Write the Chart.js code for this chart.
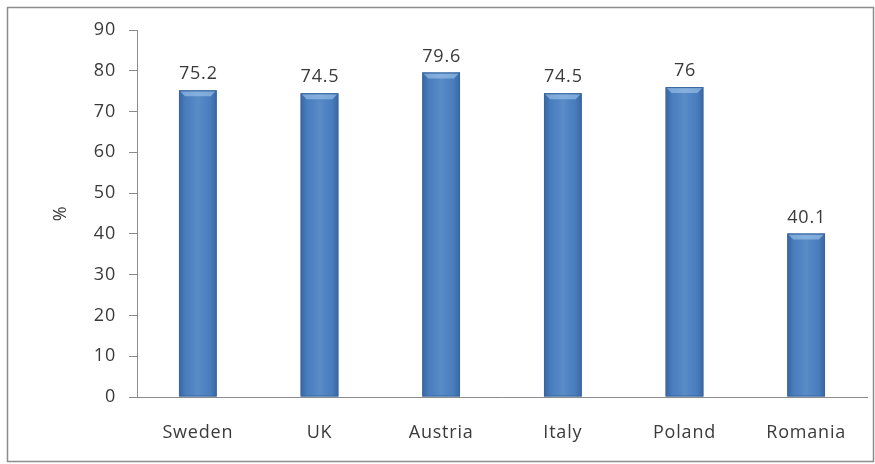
<!DOCTYPE html>
<html><head><meta charset="utf-8">
<script src="https://cdn.jsdelivr.net/npm/chart.js@4/dist/chart.umd.min.js"></script>
<style>html,body{margin:0;padding:0;background:#fff}#wrap{width:875px;height:464px}</style>
</head><body><div id="wrap"><canvas id="c" width="875" height="464"></canvas></div>
<script>
const categories = ["Sweden", "UK", "Austria", "Italy", "Poland", "Romania"];
const values = [75.2, 74.5, 79.6, 74.5, 76, 40.1];
const valueLabels = ["75.2", "74.5", "79.6", "74.5", "76", "40.1"];
const yTicks = [0, 10, 20, 30, 40, 50, 60, 70, 80, 90];
const FONT = "'Open Sans', Lato, sans-serif";
const SPACING = '0.8px';

const framePlugin = {
  id: 'frame',
  beforeDraw(chart) {
    const ctx = chart.ctx;
    ctx.save();
    ctx.fillStyle = '#fff';
    ctx.fillRect(0, 0, chart.width, chart.height);
    ctx.strokeStyle = '#8c8c8c';
    ctx.lineWidth = 1.5;
    ctx.strokeRect(7.5, 7.5, chart.width - 9, chart.height - 10);
    ctx.restore();
    if ('letterSpacing' in ctx) ctx.letterSpacing = SPACING;
  }
};

const barStyle = {
  id: 'barStyle',
  afterDatasetsDraw(chart) {
    const ctx = chart.ctx;
    const meta = chart.getDatasetMeta(0);
    ctx.save();
    meta.data.forEach((bar, i) => {
      const p = bar.getProps(['x', 'y', 'base', 'width'], true);
      const l = p.x - p.width / 2, r = p.x + p.width / 2;
      const g = ctx.createLinearGradient(l, 0, r, 0);
      g.addColorStop(0, 'rgba(20,50,100,0.35)');
      g.addColorStop(0.18, 'rgba(20,50,100,0.05)');
      g.addColorStop(0.5, 'rgba(255,255,255,0.08)');
      g.addColorStop(0.82, 'rgba(20,50,100,0.05)');
      g.addColorStop(1, 'rgba(20,50,100,0.35)');
      ctx.fillStyle = g;
      ctx.fillRect(l, p.y, p.width, p.base - p.y);
      // top bevel
      const b = 6;
      ctx.beginPath();
      ctx.moveTo(l + 1, p.y + 1);
      ctx.lineTo(r - 1, p.y + 1);
      ctx.lineTo(r - b, p.y + b);
      ctx.lineTo(l + b, p.y + b);
      ctx.closePath();
      ctx.fillStyle = 'rgba(170,205,240,0.55)';
      ctx.fill();
      // outline
      ctx.strokeStyle = '#3a679f';
      ctx.lineWidth = 1;
      ctx.strokeRect(l + 0.5, p.y + 0.5, p.width - 1, p.base - p.y - 1);
      // value label
      ctx.fillStyle = '#3a3a3a';
      ctx.font = '18px ' + FONT;
      ctx.textAlign = 'center';
      ctx.textBaseline = 'bottom';
      ctx.fillText(valueLabels[i], p.x + 0.5, p.y - 7);
    });
    ctx.restore();
  }
};

new Chart(document.getElementById('c'), {
  type: 'bar',
  data: {
    labels: categories,
    datasets: [{
      data: values,
      backgroundColor: '#4c82c3',
      borderWidth: 0,
      barPercentage: 0.31,
      categoryPercentage: 1
    }]
  },
  options: {
    responsive: false,
    animation: false,
    events: [],
    layout: { padding: { left: 46, right: 8, top: 30, bottom: 7 } },
    plugins: { legend: { display: false }, tooltip: { enabled: false } },
    scales: {
      x: {
        grid: { display: false },
        border: { display: true, color: '#8c8c8c', width: 1 },
        ticks: { color: '#3a3a3a', font: { family: FONT, size: 18 }, padding: 17, maxRotation: 0 },
        afterFit(s) { s.height = 60; }
      },
      y: {
        min: 0, max: 90,
        afterBuildTicks(s) { s.ticks = yTicks.map(v => ({ value: v })); },
        grid: { drawOnChartArea: false, drawTicks: true, tickLength: 8, color: '#8c8c8c' },
        border: { display: true, color: '#8c8c8c', width: 1 },
        ticks: { color: '#3a3a3a', font: { family: FONT, size: 18 }, padding: 13 },
        title: { display: true, text: '%', color: '#3a3a3a', font: { family: FONT, size: 18 }, padding: 4 },
        afterFit(s) { s.width = 91; }
      }
    }
  },
  plugins: [framePlugin, barStyle]
});
</script></body></html>
